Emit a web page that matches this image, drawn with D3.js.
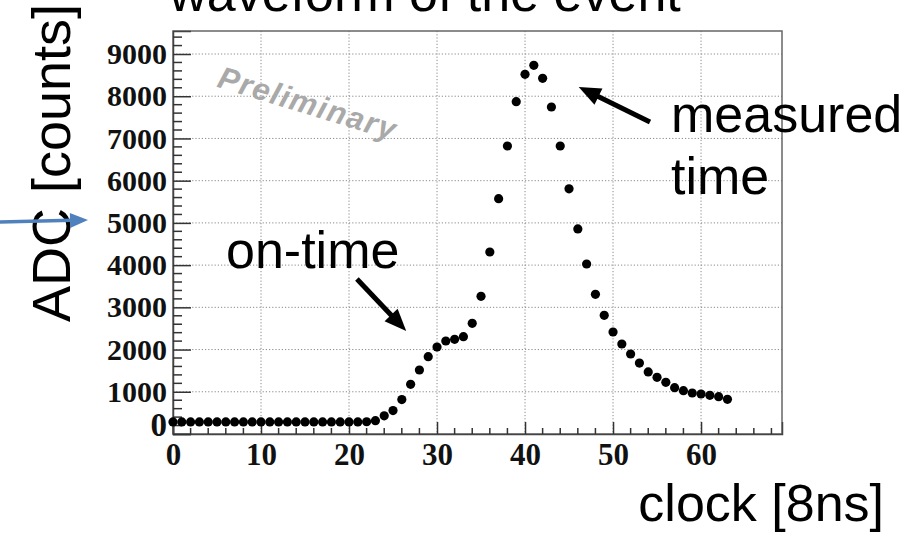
<!DOCTYPE html>
<html>
<head>
<meta charset="utf-8">
<script src="https://cdn.jsdelivr.net/npm/d3@7"></script>
<style>
  html, body { margin: 0; padding: 0; background: #fff; }
  svg { display: block; }
</style>
</head>
<body>
<script>
// Sampled ADC waveform of one event, one sample per 8 ns clock.
const clock = [
   0,  1,  2,  3,  4,  5,  6,  7,  8,  9, 10, 11, 12, 13, 14, 15,
  16, 17, 18, 19, 20, 21, 22, 23, 24, 25, 26, 27, 28, 29, 30, 31,
  32, 33, 34, 35, 36, 37, 38, 39, 40, 41, 42, 43, 44, 45, 46, 47,
  48, 49, 50, 51, 52, 53, 54, 55, 56, 57, 58, 59, 60, 61, 62, 63
];
const adc = [
   285,  285,  285,  285,  285,  285,  285,  285,  285,  285,  285,  285,  285,  285,  285,  285,
   285,  285,  285,  285,  285,  285,  290,  315,  430,  555,  815, 1177, 1516, 1831, 2061, 2203,
  2243, 2305, 2622, 3260, 4311, 5574, 6821, 7871, 8520, 8733, 8425, 7745, 6821, 5806, 4856, 4026,
  3309, 2811, 2416, 2132, 1895, 1680, 1470, 1343, 1224, 1097, 1026,  971,  947,  917,  884,  822
];
const xTicks = [0, 10, 20, 30, 40, 50, 60];
const yTicks = [0, 1000, 2000, 3000, 4000, 5000, 6000, 7000, 8000, 9000];
const xDomain = [0, 69.2];
const yDomain = [0, 9545];

const W = 914, H = 533;
const frame = { left: 173, right: 782, top: 31, bottom: 434 };

const svg = d3.select("body").append("svg")
  .attr("width", W).attr("height", H);

const x = d3.scaleLinear().domain(xDomain).range([frame.left, frame.right]);
const y = d3.scaleLinear().domain(yDomain).range([frame.bottom, frame.top]);

// dotted grid at the major ticks
const grid = svg.append("g")
  .attr("stroke", "#8a8a8a").attr("stroke-width", 1)
  .attr("stroke-dasharray", "1.2,2");
grid.selectAll("line.gx").data(xTicks.filter(d => d > 0)).join("line")
  .attr("x1", d => x(d)).attr("x2", d => x(d))
  .attr("y1", frame.top).attr("y2", frame.bottom);
grid.selectAll("line.gy").data(yTicks.filter(d => d > 0)).join("line")
  .attr("y1", d => y(d)).attr("y2", d => y(d))
  .attr("x1", frame.left).attr("x2", frame.right);

// frame box
svg.append("rect")
  .attr("x", frame.left).attr("y", frame.top)
  .attr("width", frame.right - frame.left).attr("height", frame.bottom - frame.top)
  .attr("fill", "none").attr("stroke", "#666").attr("stroke-width", 1.5);

// axes: ticks point inward, bold serif labels
const labelFont = "'Liberation Serif', 'Times New Roman', serif";
const xMinor = d3.range(0, 69, 2).filter(d => d % 10 !== 0);
const yMinor = d3.range(0, 9545, 200).filter(d => d % 1000 !== 0);

const xAxis = d3.axisBottom(x).tickValues(xTicks).tickSize(-12).tickPadding(9)
  .tickFormat(d3.format("d"));
const gx = svg.append("g").attr("transform", `translate(0,${frame.bottom})`).call(xAxis);
gx.select(".domain").attr("stroke", "#444").attr("stroke-width", 1.5);
gx.selectAll(".tick line").attr("stroke", "#333").attr("stroke-width", 1.5);
gx.selectAll(".tick text")
  .attr("font-family", labelFont).attr("font-weight", "bold")
  .attr("font-size", 31).attr("fill", "#111");
gx.selectAll("line.minor").data(xMinor).join("line")
  .attr("class", "minor")
  .attr("x1", d => x(d)).attr("x2", d => x(d))
  .attr("y1", 0).attr("y2", -6)
  .attr("stroke", "#333").attr("stroke-width", 1.5);

const yAxis = d3.axisLeft(y).tickValues(yTicks).tickSize(-18).tickPadding(6)
  .tickFormat(d3.format("d"));
const gy = svg.append("g").attr("transform", `translate(${frame.left},0)`).call(yAxis);
gy.select(".domain").attr("stroke", "#444").attr("stroke-width", 1.5);
gy.selectAll(".tick line").attr("stroke", "#333").attr("stroke-width", 1.5);
gy.selectAll(".tick text")
  .attr("font-family", labelFont).attr("font-weight", "bold")
  .attr("font-size", 30).attr("fill", "#111");
gy.selectAll(".tick").filter(d => d === 0).select("text")
  .attr("dy", "0.05em").attr("font-size", 33);
gy.selectAll("line.minor").data(yMinor).join("line")
  .attr("class", "minor")
  .attr("y1", d => y(d)).attr("y2", d => y(d))
  .attr("x1", 0).attr("x2", 9)
  .attr("stroke", "#333").attr("stroke-width", 1.5);

// "Preliminary" stamp
svg.append("text")
  .attr("transform", `translate(${x(4.9)},${y(8230)}) rotate(17)`)
  .attr("font-family", "'Liberation Sans', Arial, sans-serif")
  .attr("font-weight", "bold").attr("font-style", "italic")
  .attr("font-size", 31).attr("letter-spacing", 1.5)
  .attr("fill", "#a9a9a9")
  .text("Preliminary");

// samples
svg.append("g").selectAll("circle").data(clock).join("circle")
  .attr("cx", (d, i) => x(clock[i]))
  .attr("cy", (d, i) => y(adc[i]))
  .attr("r", 4.6)
  .attr("fill", "#000");

// arrows
function arrow(x1, y1, x2, y2, width, headLen, headWidth, color) {
  const ang = Math.atan2(y2 - y1, x2 - x1);
  const bx = x2 - headLen * Math.cos(ang), by = y2 - headLen * Math.sin(ang);
  const px = -Math.sin(ang) * headWidth / 2, py = Math.cos(ang) * headWidth / 2;
  const g = svg.append("g");
  g.append("line")
    .attr("x1", x1).attr("y1", y1).attr("x2", bx + Math.cos(ang) * 2).attr("y2", by + Math.sin(ang) * 2)
    .attr("stroke", color).attr("stroke-width", width);
  g.append("path")
    .attr("d", `M${x2},${y2}L${bx + px},${by + py}L${bx - px},${by - py}Z`)
    .attr("fill", color);
}

const sans = "'Liberation Sans', Arial, Helvetica, sans-serif";

// title (runs off the top edge)
svg.append("text")
  .attr("x", 425).attr("y", 11)
  .attr("text-anchor", "middle")
  .attr("font-family", sans).attr("font-size", 52).attr("fill", "#000")
  .text("waveform of the event");

// axis titles
svg.append("text")
  .attr("transform", "translate(70,163) rotate(-90)")
  .attr("text-anchor", "middle")
  .attr("font-family", sans).attr("font-size", 54).attr("fill", "#000")
  .text("ADC [counts]");

svg.append("text")
  .attr("x", 884).attr("y", 521)
  .attr("text-anchor", "end")
  .attr("font-family", sans).attr("font-size", 52).attr("fill", "#000")
  .text("clock [8ns]");

// annotations
svg.append("text")
  .attr("x", 226).attr("y", 268)
  .attr("font-family", sans).attr("font-size", 52).attr("fill", "#000")
  .text("on-time");
arrow(x(20.9), y(3671), x(26.5), y(2440), 5, 22, 18, "#000");

svg.append("text")
  .attr("x", 671).attr("y", 132)
  .attr("font-family", sans).attr("font-size", 52).attr("fill", "#000")
  .text("measured");
svg.append("text")
  .attr("x", 671).attr("y", 194)
  .attr("font-family", sans).attr("font-size", 52).attr("fill", "#000")
  .text("time");
arrow(x(54.2), y(7390), x(46.1), y(8220), 5, 22, 18, "#000");

// blue pointer at the left edge
arrow(0, 222, 88, 220, 3.5, 18, 15, "#4f81bd");
</script>
</body>
</html>
